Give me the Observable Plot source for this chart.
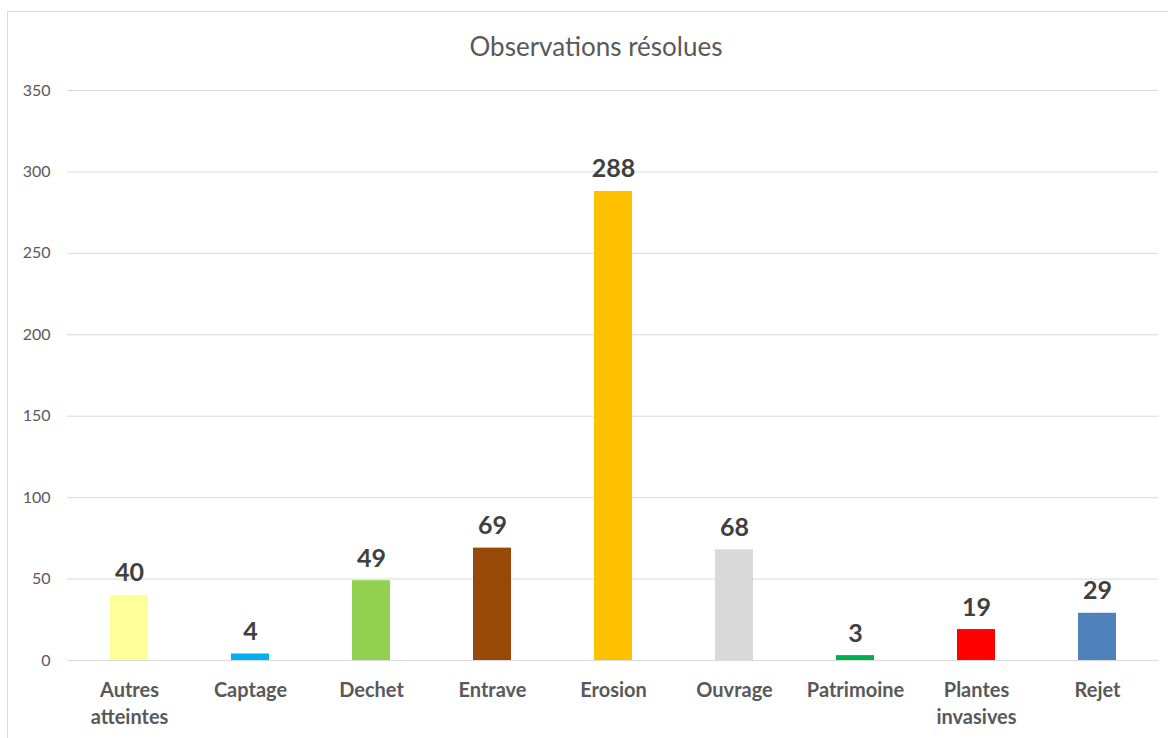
<!DOCTYPE html>
<html>
<head>
<meta charset="utf-8">
<script src="https://cdn.jsdelivr.net/npm/d3@7"></script>
<script src="https://cdn.jsdelivr.net/npm/@observablehq/plot@0.6"></script>
<style>
  html, body { margin: 0; padding: 0; background: #fff; }
  #wrap { position: relative; width: 1168px; height: 738px; overflow: hidden; }
  #frame { position: absolute; left: 7px; top: 11px; width: 1200px; height: 800px; border: 1px solid #d9d9d9; box-sizing: border-box; }
  #chart { position: absolute; left: 0; top: 0; }
</style>
</head>
<body>
<div id="wrap"><div id="frame"></div><div id="chart"></div></div>
<script>
const categories = ["Autres atteintes", "Captage", "Dechet", "Entrave", "Erosion", "Ouvrage", "Patrimoine", "Plantes invasives", "Rejet"];
const tickLabels = ["Autres\natteintes", "Captage", "Dechet", "Entrave", "Erosion", "Ouvrage", "Patrimoine", "Plantes\ninvasives", "Rejet"];
const values = [40, 4, 49, 69, 288, 68, 3, 19, 29];
const colors = ["#FFFF99", "#00B0F0", "#92D050", "#984807", "#FFC000", "#D9D9D9", "#00B050", "#FF0000", "#4F81BD"];
const yTicks = [0, 50, 100, 150, 200, 250, 300, 350];
const title = "Observations résolues";

const data = categories.map((c, i) => ({cat: c, label: tickLabels[i], value: values[i], color: colors[i]}));
const font = "Lato, 'Open Sans', sans-serif";

const chart = Plot.plot({
  width: 1168,
  height: 738,
  marginLeft: 67,
  marginRight: 10,
  marginTop: 90,
  marginBottom: 78,
  style: {fontFamily: font, background: "transparent"},
  x: {domain: categories, paddingInner: 0.69, paddingOuter: 0.345, axis: null},
  y: {domain: [0, 350], axis: null},
  marks: [
    Plot.gridY(yTicks, {stroke: "#d9d9d9", strokeOpacity: 1, strokeWidth: 1}),
    Plot.axisY(yTicks, {tickSize: 0, tickPadding: 17, fontSize: 16, fill: "#595959", label: null}),
    Plot.barY(data, {x: "cat", y: "value", fill: "color"}),
    Plot.text(data, {x: "cat", y: "value", text: d => String(d.value), lineAnchor: "bottom", dy: -14, fontSize: 25, fontWeight: "bold", fill: "#404040"}),
    Plot.text(data, {x: "cat", text: "label", frameAnchor: "bottom", lineAnchor: "top", dy: 18, lineHeight: 1.33, fontSize: 20, fontWeight: "bold", fill: "#595959"}),
    Plot.text([title], {frameAnchor: "top", text: d => d, dy: -43, lineAnchor: "middle", fontSize: 26, fill: "#595959", dx: -17})
  ]
});
document.getElementById("chart").appendChild(chart);
</script>
</body>
</html>
